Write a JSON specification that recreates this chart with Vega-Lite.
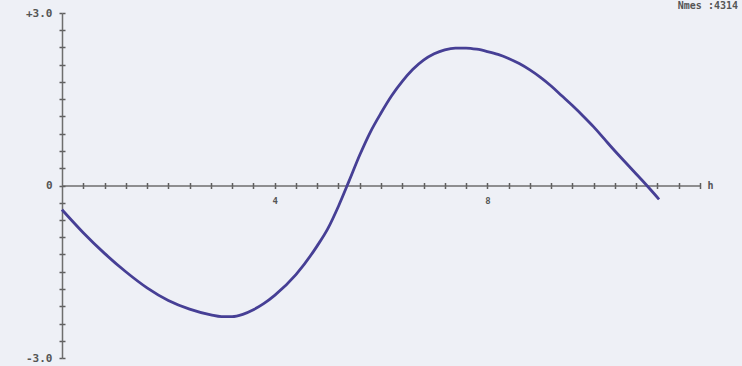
{
  "$schema": "https://vega.github.io/schema/vega-lite/v6.json",
  "autosize": "none",
  "width": 638,
  "height": 345,
  "padding": {"left": 62, "top": 13, "right": 42, "bottom": 8},
  "background": "#eef0f6",
  "config": {
    "view": {"stroke": null},
    "axis": {
      "grid": false,
      "domainColor": "#6e6e6e",
      "domainWidth": 1.5,
      "tickColor": "#5e5e5e",
      "tickWidth": 1.5,
      "tickSize": 3,
      "labelFont": "DejaVu Sans Mono",
      "labelFontWeight": "bold",
      "labelFontSize": 11,
      "labelColor": "#555555",
      "labelOverlap": false,
      "labelFlush": false,
      "labelBound": false
    }
  },
  "title": {
    "text": "Nmes :4314",
    "anchor": "end",
    "orient": "top",
    "frame": "group",
    "offset": -4,
    "dx": 38,
    "font": "DejaVu Sans Mono",
    "fontWeight": "bold",
    "fontSize": 10,
    "color": "#555555"
  },
  "data": {
    "values": [
      {"h": 0.0, "v": -0.42},
      {"h": 0.4, "v": -0.82},
      {"h": 0.8, "v": -1.18},
      {"h": 1.2, "v": -1.5},
      {"h": 1.6, "v": -1.78},
      {"h": 2.0, "v": -2.0},
      {"h": 2.4, "v": -2.15},
      {"h": 2.8, "v": -2.25},
      {"h": 3.0, "v": -2.28},
      {"h": 3.2, "v": -2.28},
      {"h": 3.4, "v": -2.24},
      {"h": 3.6, "v": -2.16},
      {"h": 3.8, "v": -2.05},
      {"h": 4.0, "v": -1.91},
      {"h": 4.4, "v": -1.55},
      {"h": 4.8, "v": -1.05},
      {"h": 5.0, "v": -0.75},
      {"h": 5.2, "v": -0.36},
      {"h": 5.4, "v": 0.08},
      {"h": 5.6, "v": 0.53},
      {"h": 5.8, "v": 0.93},
      {"h": 6.0, "v": 1.26},
      {"h": 6.2, "v": 1.56},
      {"h": 6.4, "v": 1.81},
      {"h": 6.6, "v": 2.02},
      {"h": 6.8, "v": 2.18},
      {"h": 7.0, "v": 2.29},
      {"h": 7.2, "v": 2.36},
      {"h": 7.4, "v": 2.39},
      {"h": 7.6, "v": 2.39},
      {"h": 7.8, "v": 2.37},
      {"h": 8.0, "v": 2.33},
      {"h": 8.2, "v": 2.28},
      {"h": 8.4, "v": 2.21},
      {"h": 8.6, "v": 2.12},
      {"h": 8.8, "v": 2.01},
      {"h": 9.0, "v": 1.88},
      {"h": 9.2, "v": 1.73},
      {"h": 9.4, "v": 1.56},
      {"h": 9.6, "v": 1.39},
      {"h": 9.8, "v": 1.21},
      {"h": 10.0, "v": 1.02},
      {"h": 10.2, "v": 0.81},
      {"h": 10.4, "v": 0.6},
      {"h": 10.6, "v": 0.4},
      {"h": 10.8, "v": 0.2},
      {"h": 11.0, "v": 0.0},
      {"h": 11.23, "v": -0.24}
    ]
  },
  "resolve": {"axis": {"x": "independent", "y": "independent"}},
  "layer": [
    {
      "mark": {"type": "line", "color": "#463f95", "strokeWidth": 2.8, "interpolate": "monotone"},
      "encoding": {
        "x": {
          "field": "h",
          "type": "quantitative",
          "scale": {"domain": [0, 12], "nice": false, "zero": false},
          "axis": {
            "orient": "bottom",
            "offset": -172.5,
            "values": [0.4, 0.8, 1.2, 1.6, 2, 2.4, 2.8, 3.2, 3.6, 4, 4.4, 4.8, 5.2, 5.6, 6, 6.4, 6.8, 7.2, 7.6, 8, 8.4, 8.8, 9.2, 9.6, 10, 10.4, 10.8, 11.2, 11.6, 12],
            "labelExpr": "datum.value == 4 || datum.value == 8 ? format(datum.value, 'd') : ''",
            "labelPadding": 8,
            "labelFontSize": 9,
            "title": "h",
            "titleX": 645,
            "titleY": 0,
            "titleAlign": "left",
            "titleBaseline": "middle",
            "titleAngle": 0,
            "titleFont": "DejaVu Sans Mono",
            "titleFontWeight": "bold",
            "titleFontSize": 10,
            "titleColor": "#555555"
          }
        },
        "y": {
          "field": "v",
          "type": "quantitative",
          "scale": {"domain": [-3, 3], "nice": false, "zero": false},
          "axis": {
            "orient": "left",
            "values": [-3, -2.7, -2.4, -2.1, -1.8, -1.5, -1.2, -0.9, -0.6, -0.3, 0, 0.3, 0.6, 0.9, 1.2, 1.5, 1.8, 2.1, 2.4, 2.7, 3],
            "labelExpr": "datum.value == 3 ? '+3.0' : datum.value == -3 ? '-3.0' : datum.value == 0 ? '0\u2007' : ''",
            "labelPadding": 7,
            "title": null
          }
        }
      }
    },
    {
      "mark": {"type": "line", "opacity": 0},
      "encoding": {
        "x": {
          "field": "h",
          "type": "quantitative",
          "scale": {"domain": [0, 12], "nice": false, "zero": false},
          "axis": {
            "orient": "top",
            "offset": -172.5,
            "domain": false,
            "labels": false,
            "title": null,
            "values": [0.4, 0.8, 1.2, 1.6, 2, 2.4, 2.8, 3.2, 3.6, 4, 4.4, 4.8, 5.2, 5.6, 6, 6.4, 6.8, 7.2, 7.6, 8, 8.4, 8.8, 9.2, 9.6, 10, 10.4, 10.8, 11.2, 11.6, 12]
          }
        },
        "y": {
          "field": "v",
          "type": "quantitative",
          "scale": {"domain": [-3, 3], "nice": false, "zero": false},
          "axis": {
            "orient": "right",
            "offset": -638,
            "domain": false,
            "labels": false,
            "title": null,
            "values": [-3, -2.7, -2.4, -2.1, -1.8, -1.5, -1.2, -0.9, -0.6, -0.3, 0, 0.3, 0.6, 0.9, 1.2, 1.5, 1.8, 2.1, 2.4, 2.7, 3]
          }
        }
      }
    }
  ]
}
